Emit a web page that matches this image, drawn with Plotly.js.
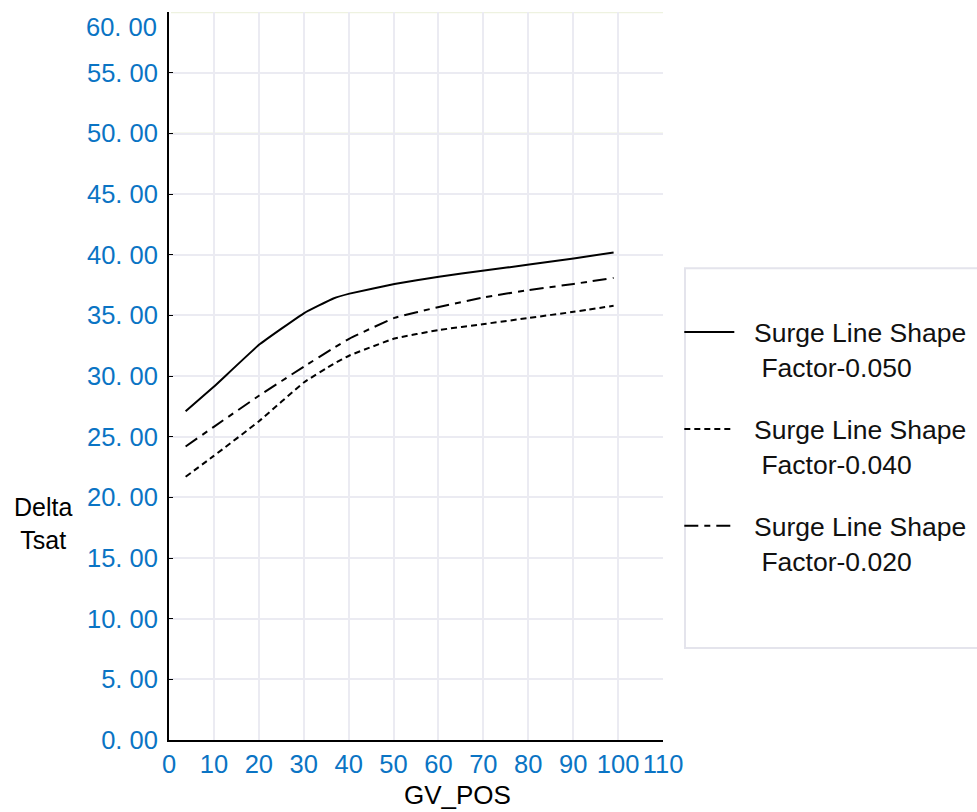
<!DOCTYPE html>
<html>
<head>
<meta charset="utf-8">
<script src="https://cdn.plot.ly/plotly-3.0.1.min.js"></script>
<style>html,body{margin:0;padding:0;background:#fff;}#chart{width:977px;height:812px;}</style>
</head>
<body>
<div id="chart"></div>
<script>
// Data
const gvPos = [3.7, 9.9, 20.1, 30.1, 36.6, 40.2, 50.2, 60.1, 70.2, 80.2, 90.1, 99.0];
const factor050 = [27.1, 29.1, 32.6, 35.2, 36.4, 36.8, 37.6, 38.2, 38.7, 39.2, 39.7, 40.2];
const factor040 = [21.7, 23.4, 26.3, 29.5, 31.0, 31.7, 33.1, 33.8, 34.3, 34.8, 35.3, 35.8];
const factor020 = [24.2, 25.8, 28.4, 30.8, 32.3, 33.1, 34.8, 35.7, 36.5, 37.1, 37.6, 38.1];
const seriesNames = ["Surge Line Shape<br> Factor-0.050", "Surge Line Shape<br> Factor-0.040", "Surge Line Shape<br> Factor-0.020"];
const yTickVals = [0, 5, 10, 15, 20, 25, 30, 35, 40, 45, 50, 55];
const yTickText = ["0. 00", "5. 00", "10. 00", "15. 00", "20. 00", "25. 00", "30. 00", "35. 00", "40. 00", "45. 00", "50. 00", "55. 00"];
const yTopVal = 60;
const yTopText = "60. 00";
const xTickVals = [0, 10, 20, 30, 40, 50, 60, 70, 80, 90, 100, 110];

const FONT = "Liberation Sans, Arial, sans-serif";
const BLUE = "#0a74c4";
const PAD = "\u00a0\u00a0";

function tr(y, name, dash, grp) {
  return {
    x: gvPos, y: y,
    name: PAD + name.replace("<br>", "<br>" + PAD),
    type: "scatter", mode: "lines",
    line: {color: "#000", width: 2, dash: dash, shape: "spline", smoothing: 0.3},
    legendgroup: grp
  };
}

const data = [
  tr(factor050, seriesNames[0], "solid", "a"),
  tr(factor040, seriesNames[1], "6px,4px", "b"),
  tr(factor020, seriesNames[2], "14px,6px,6px,6px", "c")
];

const layout = {
  width: 977, height: 812,
  margin: {l: 169, r: 314, t: 12, b: 72, pad: 0, autoexpand: false},
  paper_bgcolor: "#fff", plot_bgcolor: "#fff",
  font: {family: FONT, color: "#000", size: 25},
  showlegend: true,
  legend: {
    x: 1.033, xanchor: "left", y: 0.593, yanchor: "top",
    bgcolor: "rgba(0,0,0,0)", borderwidth: 0,
    font: {family: FONT, size: 26.5, color: "#111"},
    valign: "top", traceorder: "grouped", tracegroupgap: 25,
    itemwidth: 50
  },
  xaxis: {
    range: [0, 110], tickmode: "array", tickvals: xTickVals,
    showgrid: true, gridcolor: "#ebebf2", gridwidth: 2,
    zeroline: false, showline: true, linecolor: "#000", linewidth: 2,
    ticks: "", tickfont: {family: FONT, size: 25.5, color: BLUE},
    ticklabeloverflow: "allow",
    fixedrange: true
  },
  yaxis: {
    range: [0, 60.02], tickmode: "array", tickvals: yTickVals, ticktext: yTickText,
    showgrid: true, gridcolor: "#ebebf2", gridwidth: 2,
    zeroline: false, showline: true, linecolor: "#000", linewidth: 2,
    ticks: "inside", ticklen: 4, tickcolor: "#000",
    tickfont: {family: FONT, size: 25.5, color: BLUE},
    ticklabelstandoff: 4, ticklabeloverflow: "allow",
    fixedrange: true
  },
  shapes: [
    {type: "line", xref: "paper", yref: "y", x0: 0.004, x1: 1, y0: 60, y1: 60, line: {color: "#eef2e0", width: 2}, layer: "below"},
    {type: "line", xref: "paper", yref: "y", x0: 0.004, x1: 1, y0: 55, y1: 55, line: {color: "#eef2e0", width: 2}, layer: "below"},
    {type: "line", xref: "paper", yref: "y", x0: 0.004, x1: 1, y0: 50, y1: 50, line: {color: "#eef2e0", width: 2}, layer: "below"},
    {type: "rect", xref: "paper", yref: "paper", x0: 1.0445, x1: 1.67, y0: 0.1264, y1: 0.648, line: {color: "#e4e4ec", width: 2}, fillcolor: "rgba(0,0,0,0)"}
  ],
  annotations: [
    {text: yTopText, xref: "paper", yref: "y", x: 0, y: yTopVal, xanchor: "right", yanchor: "middle",
     xshift: -10, yshift: -15, showarrow: false, font: {family: FONT, size: 25.5, color: BLUE}},
    {text: "Delta<br>Tsat", xref: "paper", yref: "paper", x: -0.255, y: 0.298, xanchor: "center", yanchor: "middle",
     showarrow: false, align: "center", font: {family: FONT, size: 25, color: "#000"}},
    {text: "GV_POS", xref: "paper", yref: "paper", x: 0.585, y: -0.075, xanchor: "center", yanchor: "middle",
     showarrow: false, font: {family: FONT, size: 26, color: "#000"}}
  ]
};

Plotly.newPlot("chart", data, layout, {displayModeBar: false, staticPlot: true});
</script>
</body>
</html>
